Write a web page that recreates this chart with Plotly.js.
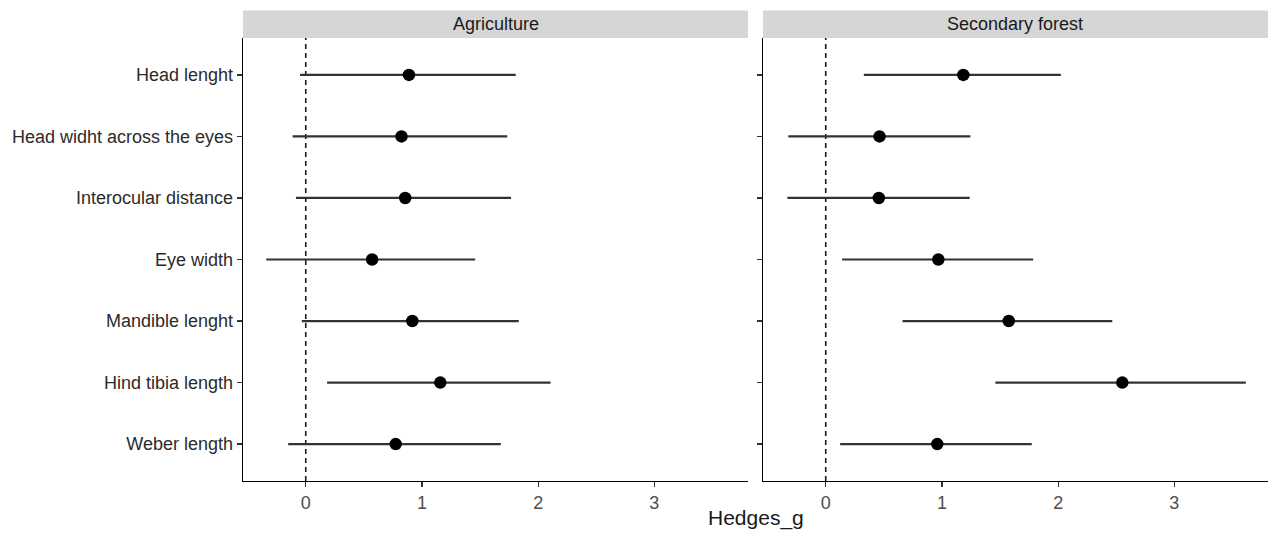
<!DOCTYPE html>
<html>
<head>
<meta charset="utf-8">
<script src="https://cdn.plot.ly/plotly-3.0.1.min.js"></script>
<style>html,body{margin:0;padding:0;background:#fff;}#chart{width:1268px;height:535px;}</style>
</head>
<body>
<div id="chart"></div>
<script>
const traits = ["Head lenght","Head widht across the eyes","Interocular distance","Eye width","Mandible lenght","Hind tibia length","Weber length"];
const panels = ["Agriculture","Secondary forest"];

const agriG     = [0.888, 0.824, 0.856, 0.571, 0.917, 1.158, 0.774];
const agriLow   = [-0.049, -0.113, -0.084, -0.340, -0.034, 0.184, -0.151];
const agriHigh  = [1.807, 1.734, 1.767, 1.458, 1.833, 2.107, 1.679];

const secG      = [1.184, 0.463, 0.457, 0.969, 1.575, 2.552, 0.960];
const secLow    = [0.328, -0.322, -0.330, 0.141, 0.661, 1.460, 0.124];
const secHigh   = [2.023, 1.245, 1.239, 1.785, 2.466, 3.615, 1.773];

const xTicks = [0, 1, 2, 3];
const xTitle = "Hedges_g";

const FONT = "Liberation Sans, Arial, sans-serif";

function mkTrace(g, lo, hi, xa, ya) {
  return {
    type: "scatter", mode: "markers",
    x: g, y: traits, xaxis: xa, yaxis: ya,
    marker: {color: "#000", size: 12.5},
    error_x: {
      type: "data", symmetric: false,
      array: g.map((v, i) => hi[i] - v),
      arrayminus: g.map((v, i) => v - lo[i]),
      width: 0, thickness: 2.2, color: "#333"
    },
    hoverinfo: "skip", showlegend: false
  };
}

const data = [
  mkTrace(agriG, agriLow, agriHigh, "x", "y"),
  mkTrace(secG, secLow, secHigh, "x2", "y2")
];

const xBase = {
  range: [-0.54, 3.806], tickvals: xTicks, ticktext: xTicks.map(String),
  showgrid: false, zeroline: false, showline: true, linecolor: "#000", linewidth: 1.3,
  ticks: "outside", ticklen: 5, tickwidth: 1.2, tickcolor: "#333",
  tickfont: {family: FONT, size: 18, color: "#4d4d4d"}
};
const yBase = {
  type: "category", categoryorder: "array", categoryarray: traits,
  range: [6.6, -0.6], showgrid: false, zeroline: false,
  showline: true, linecolor: "#000", linewidth: 1.3,
  ticks: "outside", ticklen: 5, tickwidth: 1.2, tickcolor: "#333",
  tickfont: {family: FONT, size: 18, color: "#2b2b2b"}
};

const stripTop = 1 + 27.5 / 443;
const layout = {
  width: 1268, height: 535,
  margin: {l: 243, r: 0, t: 38, b: 54},
  paper_bgcolor: "#fff", plot_bgcolor: "#fff",
  font: {family: FONT, color: "#1a1a1a"},
  xaxis: Object.assign({}, xBase, {domain: [0, 0.4927], anchor: "y"}),
  xaxis2: Object.assign({}, xBase, {domain: [0.5073, 1], anchor: "y2"}),
  yaxis: Object.assign({}, yBase, {domain: [0, 1], anchor: "x"}),
  yaxis2: Object.assign({}, yBase, {domain: [0, 1], anchor: "x2", showticklabels: false}),
  shapes: [
    {type: "rect", xref: "x domain", yref: "paper", x0: 0, x1: 1, y0: 1, y1: stripTop, fillcolor: "#d6d6d6", line: {width: 0}, layer: "below"},
    {type: "rect", xref: "x2 domain", yref: "paper", x0: 0, x1: 1, y0: 1, y1: stripTop, fillcolor: "#d6d6d6", line: {width: 0}, layer: "below"},
    {type: "line", xref: "x", yref: "y domain", x0: 0, x1: 0, y0: 0, y1: 1, line: {color: "#1a1a1a", width: 1.6, dash: "5px,4px"}, layer: "below"},
    {type: "line", xref: "x2", yref: "y2 domain", x0: 0, x1: 0, y0: 0, y1: 1, line: {color: "#1a1a1a", width: 1.6, dash: "5px,4px"}, layer: "below"}
  ],
  annotations: [
    {text: panels[0], xref: "x domain", yref: "paper", x: 0.5, y: (1 + stripTop) / 2, showarrow: false, xanchor: "center", yanchor: "middle", font: {family: FONT, size: 18, color: "#1a1a1a"}},
    {text: panels[1], xref: "x2 domain", yref: "paper", x: 0.5, y: (1 + stripTop) / 2, showarrow: false, xanchor: "center", yanchor: "middle", font: {family: FONT, size: 18, color: "#1a1a1a"}},
    {text: xTitle, xref: "paper", yref: "paper", x: 0.5, y: -0.0835, showarrow: false, xanchor: "center", yanchor: "middle", font: {family: FONT, size: 21, color: "#1a1a1a"}}
  ]
};

Plotly.newPlot("chart", data, layout, {displayModeBar: false, staticPlot: true});
</script>
</body>
</html>
